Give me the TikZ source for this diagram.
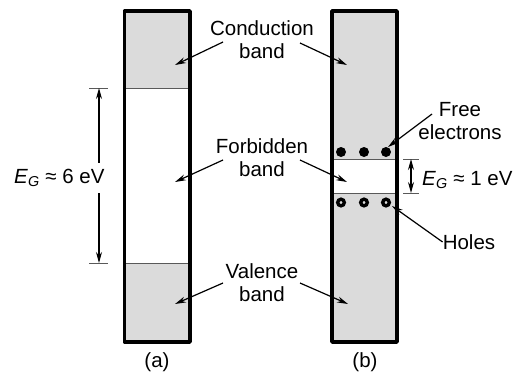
\documentclass[tikz,border=0pt]{standalone}
\usepackage{fontspec}
\setmainfont{Liberation Sans}
\usetikzlibrary{arrows.meta}
\newcommand{\EgSym}{\textit{E}\textsubscript{\textit{G}}}
\begin{document}
\begin{tikzpicture}[x=1pt,y=-1pt,
  lbl/.style={font=\fontsize{20.5}{23}\selectfont, inner sep=0pt, align=center},
  ptr/.style={line width=1.2pt, -{Stealth[length=11pt,width=6pt]}},
  box/.style={line width=3.5pt, line join=round},
  sep/.style={line width=1pt, draw=black!65},
  tick/.style={line width=1pt, draw=black!65},
  dim/.style={line width=1.2pt, {Stealth[length=11pt,width=6pt]}-{Stealth[length=11pt,width=6pt]}}]
\useasboundingbox (0,0) rectangle (514,375);
% box (a)
\fill[black!14] (124.5,11) rectangle (190,88);
\fill[black!14] (124.5,263) rectangle (190,342);
\draw[sep] (124.5,88) -- (190,88);
\draw[sep] (124.5,263) -- (190,263);
\draw[box] (124.5,11) rectangle (190,342);
% box (b)
\fill[black!14] (332,11) rectangle (397,159);
\fill[black!14] (332,193) rectangle (397,342);
\draw[sep] (332,159) -- (397,159);
\draw[sep] (332,193) -- (397,193);
\draw[box] (332,11) rectangle (397,342);
% electrons and holes
\foreach \x in {341,364,386}{
  \fill (\x,152) circle (5);
  \draw[line width=3.4pt] (\x,202.5) circle (3.3);
}
\coordinate (e3) at (388,147);
\coordinate (h3) at (392,206);
% Eg (a)
\coordinate (ta) at (99,88);
\coordinate (ba) at (99,263);
\draw[tick] (89,88) -- (108,88);
\draw[tick] (89,263) -- (108,263);
\draw[dim] (ta) -- (ba);
\node[lbl, fill=white, inner ysep=6pt, anchor=west] (ega) at (14,178) {\EgSym\ ≈ 6 eV};
% Eg (b)
\coordinate (tb) at (411,159);
\coordinate (bb) at (411,193);
\draw[tick] (403,159) -- (419,159);
\draw[tick] (403,193) -- (419,193);
\draw[dim] (tb) -- (bb);
\node[lbl, anchor=west] (egb) at (422,180) {\EgSym\ ≈ 1 eV};
% labels
\node[lbl] (cond) at (262,40) {Conduction\\band};
\node[lbl] (forb) at (262,158) {Forbidden\\band};
\node[lbl] (val) at (262,283) {Valence\\band};
\node[lbl] (free) at (460,121) {Free\\electrons};
\node[lbl] (holes) at (469,242) {Holes};
\node[lbl] (la) at (157,362) {(a)};
\node[lbl] (lb) at (365,362) {(b)};
% pointers
\coordinate (c1) at (175,65); \coordinate (c2) at (347,65);
\coordinate (f1) at (175,182); \coordinate (f2) at (347,182);
\coordinate (v1) at (175,304); \coordinate (v2) at (348,304);
\draw[ptr] (223,42) -- (c1);
\draw[ptr] (300,43) -- (c2);
\draw[ptr] (223,160) -- (f1);
\draw[ptr] (300,160) -- (f2);
\draw[ptr] (223,283) -- (v1);
\draw[ptr] (300,283) -- (v2);
\draw[ptr] (432,114) -- (e3);
\draw[ptr] (holes.west) -- (h3);
\end{tikzpicture}
\end{document}
